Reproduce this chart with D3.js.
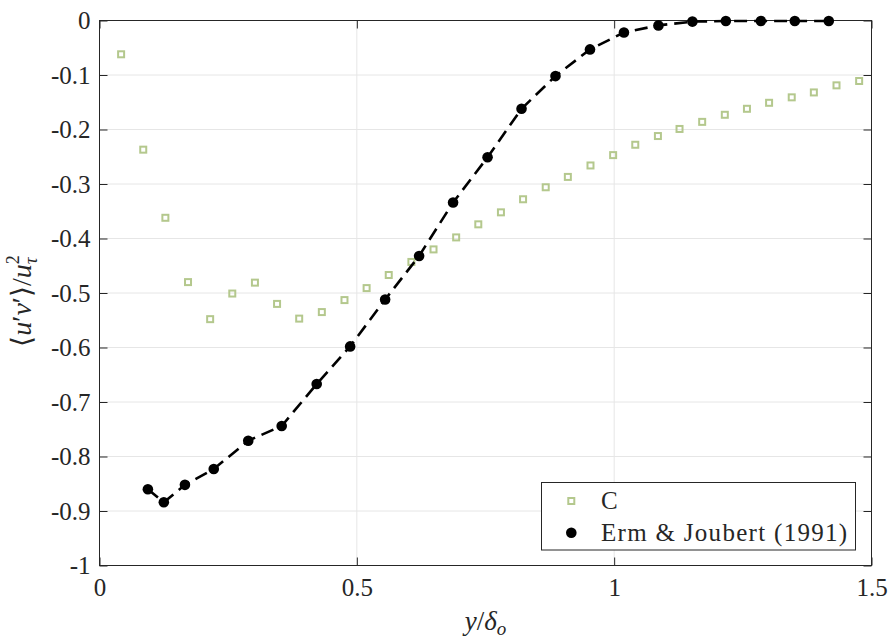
<!DOCTYPE html>
<html>
<head>
<meta charset="utf-8">
<script src="https://cdn.jsdelivr.net/npm/d3@7/dist/d3.min.js"></script>
<style>
  html, body { margin: 0; padding: 0; background: #fff; }
  svg { display: block; }
</style>
</head>
<body>
<svg id="chart" width="891" height="641"></svg>
<script>
// Series C: open squares
const cX = [0.042, 0.085, 0.128, 0.172, 0.215, 0.258, 0.302, 0.345, 0.388, 0.432,
            0.476, 0.519, 0.562, 0.606, 0.649, 0.693, 0.736, 0.780, 0.823, 0.867,
            0.910, 0.954, 0.998, 1.041, 1.085, 1.127, 1.171, 1.215, 1.258, 1.301,
            1.345, 1.388, 1.432, 1.476];
const cY = [-0.062, -0.237, -0.362, -0.480, -0.548, -0.501, -0.481, -0.520, -0.547, -0.535,
            -0.513, -0.491, -0.467, -0.443, -0.420, -0.398, -0.374, -0.352, -0.328, -0.306,
            -0.287, -0.266, -0.247, -0.228, -0.212, -0.199, -0.186, -0.173, -0.162, -0.151,
            -0.141, -0.132, -0.119, -0.111];

// Erm & Joubert (1991): filled circles joined by a dashed line
const ejX = [0.094, 0.125, 0.166, 0.222, 0.289, 0.354, 0.422, 0.487, 0.555, 0.621,
             0.687, 0.754, 0.820, 0.886, 0.953, 1.019, 1.086, 1.152, 1.217, 1.285,
             1.351, 1.417];
const ejY = [-0.860, -0.884, -0.852, -0.823, -0.771, -0.744, -0.667, -0.598, -0.512, -0.432,
             -0.334, -0.251, -0.162, -0.102, -0.053, -0.022, -0.009, -0.002, -0.001, -0.001,
             -0.001, -0.001];

const xTicks = [0, 0.5, 1, 1.5];
const xTickLabels = ["0", "0.5", "1", "1.5"];
const yTicks = [0, -0.1, -0.2, -0.3, -0.4, -0.5, -0.6, -0.7, -0.8, -0.9, -1];
const yTickLabels = ["0", "-0.1", "-0.2", "-0.3", "-0.4", "-0.5", "-0.6", "-0.7", "-0.8", "-0.9", "-1"];

const seriesNames = ["C", "Erm & Joubert (1991)"];

const FONT = '"Liberation Serif"';
const box = { left: 99.5, right: 871.5, top: 20.5, bottom: 565.5 };
const green = "#b4c88d";
const axisColor = "#262626";

const svg = d3.select("#chart");
const x = d3.scaleLinear().domain([0, 1.5]).range([box.left, box.right]);
const y = d3.scaleLinear().domain([-1, 0]).range([box.bottom, box.top]);

// grid
const grid = svg.append("g");
grid.selectAll("line.gx").data(xTicks.slice(1, -1)).join("line")
  .attr("x1", d => x(d)).attr("x2", d => x(d))
  .attr("y1", box.top).attr("y2", box.bottom)
  .attr("stroke", "#e6e6e6").attr("stroke-width", 1);
grid.selectAll("line.gy").data(yTicks.slice(1, -1)).join("line")
  .attr("y1", d => y(d)).attr("y2", d => y(d))
  .attr("x1", box.left).attr("x2", box.right)
  .attr("stroke", "#e6e6e6").attr("stroke-width", 1);

// axes (ticks drawn inward)
function styleAxis(g, showText) {
  g.attr("font-family", null).attr("font-size", null);
  g.select(".domain").remove();
  g.selectAll(".tick line").attr("stroke", axisColor);
  g.selectAll(".tick text")
    .style("font-family", FONT).attr("font-size", 25).attr("fill", axisColor);
  if (!showText) g.selectAll(".tick text").remove();
}
const xFmt = (d) => xTickLabels[xTicks.indexOf(d)];
const yFmt = (d) => yTickLabels[yTicks.indexOf(d)];

svg.append("g").attr("transform", `translate(0,${box.bottom})`)
  .call(d3.axisBottom(x).tickValues(xTicks).tickFormat(xFmt).tickSizeInner(-8).tickSizeOuter(0).tickPadding(13))
  .call(g => styleAxis(g, true));
svg.append("g").attr("transform", `translate(0,${box.top})`)
  .call(d3.axisTop(x).tickValues(xTicks).tickSizeInner(-8).tickSizeOuter(0))
  .call(g => styleAxis(g, false));
svg.append("g").attr("transform", `translate(${box.left},0)`)
  .call(d3.axisLeft(y).tickValues(yTicks).tickFormat(yFmt).tickSizeInner(-8).tickSizeOuter(0).tickPadding(9))
  .call(g => styleAxis(g, true));
svg.append("g").attr("transform", `translate(${box.right},0)`)
  .call(d3.axisRight(y).tickValues(yTicks).tickSizeInner(-8).tickSizeOuter(0))
  .call(g => styleAxis(g, false));

// axes box
svg.append("rect")
  .attr("x", box.left).attr("y", box.top)
  .attr("width", box.right - box.left).attr("height", box.bottom - box.top)
  .attr("fill", "none").attr("stroke", axisColor).attr("stroke-width", 1);

// series C: open squares
const cData = cX.map((v, i) => [v, cY[i]]);
svg.append("g").selectAll("rect").data(cData).join("rect")
  .attr("x", d => x(d[0]) - 3).attr("y", d => y(d[1]) - 3)
  .attr("width", 6).attr("height", 6)
  .attr("fill", "none").attr("stroke", green).attr("stroke-width", 2);

// Erm & Joubert: dashed line + filled circles
const ejData = ejX.map((v, i) => [v, ejY[i]]);
svg.append("path").datum(ejData)
  .attr("d", d3.line().x(d => x(d[0])).y(d => y(d[1])))
  .attr("fill", "none").attr("stroke", "#000").attr("stroke-width", 2.6)
  .attr("stroke-dasharray", "13,7");
svg.append("g").selectAll("circle").data(ejData).join("circle")
  .attr("cx", d => x(d[0])).attr("cy", d => y(d[1])).attr("r", 5.3)
  .attr("fill", "#000");

// legend
const lg = svg.append("g");
lg.append("rect").attr("x", 541.5).attr("y", 482.5).attr("width", 314).attr("height", 67.5)
  .attr("fill", "#fff").attr("stroke", axisColor).attr("stroke-width", 1);
lg.append("rect").attr("x", 571.3 - 3).attr("y", 501 - 3).attr("width", 6).attr("height", 6)
  .attr("fill", "none").attr("stroke", green).attr("stroke-width", 2);
lg.append("circle").attr("cx", 571.3).attr("cy", 532.7).attr("r", 5.3).attr("fill", "#000");
lg.append("text").attr("x", 601).attr("y", 509)
  .style("font-family", FONT).attr("font-size", 25).attr("fill", axisColor)
  .text(seriesNames[0]);
lg.append("text").attr("x", 601).attr("y", 541)
  .style("font-family", FONT).attr("font-size", 25).style("letter-spacing", "1.3px")
  .attr("fill", axisColor).text(seriesNames[1]);

// x axis title: y/δ_o
const xt = svg.append("text").attr("x", (box.left + box.right) / 2).attr("y", 630)
  .attr("text-anchor", "middle").attr("fill", axisColor)
  .style("font-family", FONT).attr("font-size", 27);
xt.append("tspan").style("font-style", "italic").text("y");
xt.append("tspan").text("/");
xt.append("tspan").style("font-style", "italic").text("δ");
xt.append("tspan").style("font-style", "italic").attr("font-size", 19).attr("dy", 5).text("o");

// y axis title: ⟨u'v'⟩/u_τ^2
const yt = svg.append("text")
  .attr("transform", `translate(31,${(box.top + box.bottom) / 2 + 8}) rotate(-90)`)
  .attr("text-anchor", "middle").attr("fill", axisColor)
  .style("font-family", FONT).attr("font-size", 28);
yt.append("tspan").text("⟨");
yt.append("tspan").style("font-style", "italic").text("u");
yt.append("tspan").text("′");
yt.append("tspan").style("font-style", "italic").text("v");
yt.append("tspan").text("′⟩/");
yt.append("tspan").style("font-style", "italic").text("u");
yt.append("tspan").attr("font-size", 18).attr("dy", -12).text("2");
yt.append("tspan").attr("font-size", 19).style("font-style", "italic")
  .attr("dx", -9).attr("dy", 18).text("τ");
</script>
</body>
</html>
